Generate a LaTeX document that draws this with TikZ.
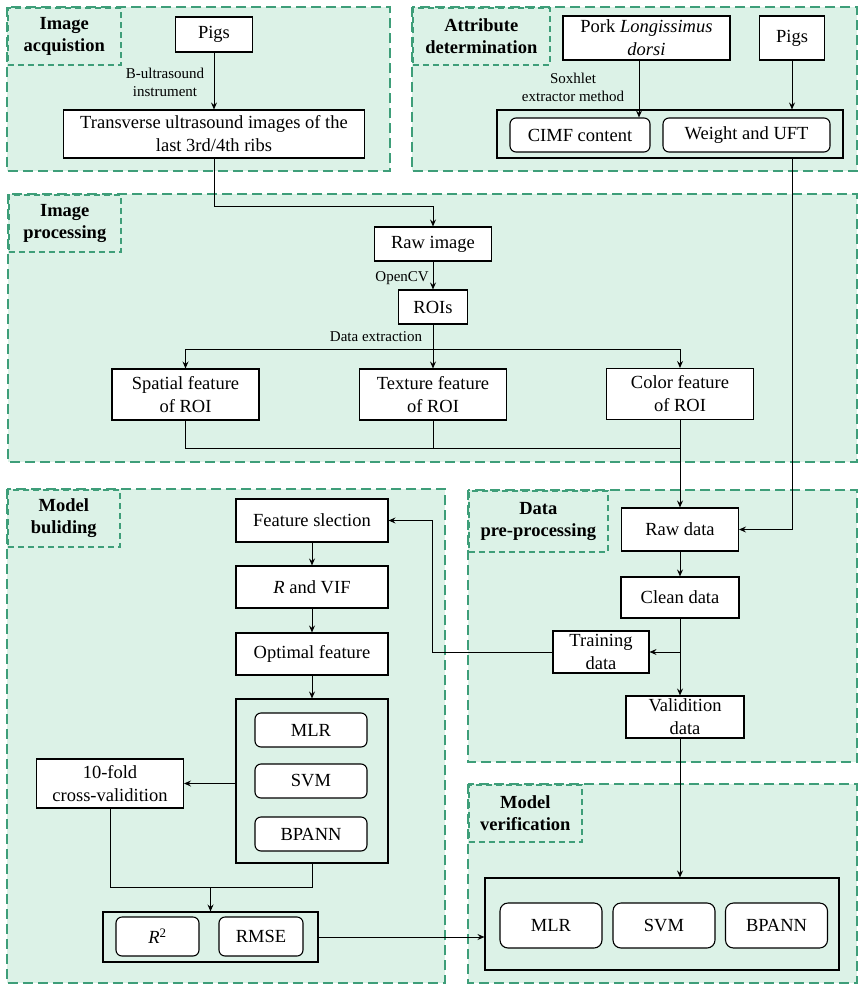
\documentclass[tikz,border=0pt]{standalone}
\usepackage{fontspec}
\setmainfont{Liberation Serif}
\usetikzlibrary{arrows.meta}
\definecolor{panelfill}{HTML}{DCF2E7}
\definecolor{paneldraw}{HTML}{3E9E79}
\tikzset{
  panel/.style={fill=panelfill,draw=paneldraw,line width=2pt,dash pattern=on 10pt off 5pt},
  title/.style={draw=paneldraw,line width=1.6pt,dash pattern=on 6pt off 4pt,anchor=north west,
    inner sep=0pt,align=center,font=\bfseries\fontsize{18.5}{22.5}\selectfont},
  box/.style={draw,fill=white,line width=1.1pt,align=center,inner sep=0pt,font=\fontsize{18.5}{23}\selectfont},
  rbox/.style={box,rounded corners=6pt},
  cont/.style={draw,line width=1.1pt,inner sep=0pt},
  lbl/.style={align=center,inner sep=0pt,font=\fontsize{15}{18}\selectfont},
  >={Stealth[length=7pt,width=6pt,inset=2.5pt]},
}
\begin{document}
\begin{tikzpicture}[x=1pt,y=-1pt]
  \useasboundingbox[fill=white] (0,0) rectangle (864,992);
  % panels
  \draw[panel] (7,7) rectangle (390,171);
  \draw[panel] (412,7) rectangle (857,171);
  \draw[panel] (8,194) rectangle (857,462);
  \draw[panel] (7,489) rectangle (445,983);
  \draw[panel] (468,490) rectangle (857,762);
  \draw[panel] (468,784) rectangle (857,983);
  \node[title,minimum width=113pt,minimum height=57pt] (acqt) at (7,7) {Image\\acquistion};
  \node[title,minimum width=137pt,minimum height=57pt] (attrt) at (412,7) {Attribute\\determination};
  \node[title,minimum width=112pt,minimum height=57pt] (proct) at (8,194) {Image\\processing};
  \node[title,minimum width=112pt,minimum height=57pt] (buildt) at (7,489) {Model\\buliding};
  \node[title,minimum width=139pt,minimum height=61pt] (prept) at (468,490) {Data\\pre-processing};
  \node[title,minimum width=113pt,minimum height=57pt] (verift) at (468,784) {Model\\verification};

  % image acquisition
  \node[box,minimum width=77pt,minimum height=35pt] (pigsA) at (214,34.5) {Pigs};
  \node[box,minimum width=301pt,minimum height=48pt] (trans) at (214,134) {Transverse ultrasound images of the\\last 3rd/4th ribs};
  \node[lbl] (bus) at (165,82) {B-ultrasound\\instrument};

  % attribute determination
  \node[box,minimum width=167pt,minimum height=44pt] (pork) at (646.5,38) {Pork \textit{Longissimus}\\\textit{dorsi}};
  \node[box,minimum width=65pt,minimum height=44pt] (pigsB) at (792,38) {Pigs};
  \node[cont,minimum width=346pt,minimum height=48pt] (sets) at (670,134) {};
  \node[rbox,minimum width=140pt,minimum height=34pt] (cimf) at (580,135) {CIMF content};
  \node[rbox,minimum width=167pt,minimum height=34pt] (wuft) at (746.5,135) {Weight and UFT};
  \node[lbl] (sox) at (573,87) {Soxhlet\\extractor method};

  % image processing
  \node[box,minimum width=117pt,minimum height=34pt] (rawimg) at (433,244) {Raw image};
  \node[box,minimum width=69pt,minimum height=34pt] (rois) at (433,307) {ROIs};
  \node[lbl,anchor=east] (ocv) at (429,278) {OpenCV};
  \node[lbl] (dext) at (376,337) {Data extraction};
  \node[box,minimum width=147pt,minimum height=51pt] (spat) at (185.5,394.5) {Spatial feature\\of ROI};
  \node[box,minimum width=147pt,minimum height=51pt] (textr) at (433,394.5) {Texture feature\\of ROI};
  \node[box,minimum width=147pt,minimum height=51pt] (col) at (680,394) {Color feature\\of ROI};
  \coordinate (jn) at (680,448);

  % model building
  \node[box,minimum width=152pt,minimum height=43pt] (fsel) at (312,520.5) {Feature slection};
  \node[box,minimum width=152pt,minimum height=42pt] (rvif) at (312,587) {\textit{R} and VIF};
  \node[box,minimum width=152pt,minimum height=42pt] (optf) at (312,654) {Optimal feature};
  \node[cont,minimum width=152pt,minimum height=164pt] (mods) at (312,781) {};
  \node[rbox,minimum width=112pt,minimum height=34pt] (mlrA) at (311,730) {MLR};
  \node[rbox,minimum width=112pt,minimum height=34pt] (svmA) at (311,781) {SVM};
  \node[rbox,minimum width=112pt,minimum height=34pt] (bpA) at (311,834) {BPANN};
  \node[box,minimum width=147pt,minimum height=49pt] (fold) at (110,783.5) {10-fold\\cross-validition};
  \node[cont,minimum width=215pt,minimum height=50pt] (mets) at (210.5,937) {};
  \node[rbox,minimum width=83pt,minimum height=39pt] (rsq) at (157.5,936.5) {\textit{R}\textsuperscript{2}};
  \node[rbox,minimum width=84pt,minimum height=39pt] (rmse) at (261,936.5) {RMSE};
  \coordinate (jn2) at (312,887);
  \coordinate (fb) at (432,652);

  % data pre-processing
  \node[box,minimum width=117pt,minimum height=43pt] (rawd) at (680,529.5) {Raw data};
  \node[box,minimum width=118pt,minimum height=41pt] (clean) at (680,597.5) {Clean data};
  \node[box,minimum width=96pt,minimum height=42pt] (train) at (601,652) {Training\\data};
  \node[box,minimum width=118pt,minimum height=42pt] (valid) at (685,717) {Validition\\data};

  % model verification
  \node[cont,minimum width=354pt,minimum height=92pt] (vcont) at (662,924) {};
  \node[rbox,rounded corners=8pt,minimum width=102pt,minimum height=45pt] (mlrB) at (551,925.5) {MLR};
  \node[rbox,rounded corners=8pt,minimum width=102pt,minimum height=45pt] (svmB) at (664,925.5) {SVM};
  \node[rbox,rounded corners=8pt,minimum width=102pt,minimum height=45pt] (bpB) at (776.5,925.5) {BPANN};

  \begin{scope}[->,line width=0.9pt]
    \draw (pigsA) -- (trans);
    \draw (trans.south) -- ++(0,48) -| (rawimg.north);
    \draw ([xshift=-7.5pt]pork.south) -- ([xshift=-7.5pt]pork.south |- cimf.north);
    \draw (pigsB) -- (pigsB |- sets.north);
    \draw (pigsB |- sets.south) |- (rawd.east);
    \draw (rawimg) -- (rois);
    \draw[-] (rois.south) -- ++(0,25) coordinate (br);
    \draw (br) -| (spat.north);
    \draw (br) -- (textr.north);
    \draw (br) -| (col.north);
    \draw[-] (spat.south) |- (jn);
    \draw[-] (textr.south) -- (textr.south |- jn);
    \draw (col) -- (rawd);
    \draw (rawd) -- (clean);
    \draw (clean.south) -- (clean.south |- valid.north);
    \draw (clean.south |- train.east) -- (train.east);
    \draw (train.west) -- (fb) |- (fsel.east);
    \draw (fsel) -- (rvif);
    \draw (rvif) -- (optf);
    \draw (optf) -- (mods);
    \draw (mods.west |- fold.east) -- (fold.east);
    \draw[-] (fold.south) |- (jn2) -- (mods.south);
    \draw (mets.north |- jn2) -- (mets.north);
    \draw (mets.east) -- (mets.east -| vcont.west);
    \draw (valid.south -| clean.south) -- (vcont.north -| clean.south);
  \end{scope}
\end{tikzpicture}
\end{document}
